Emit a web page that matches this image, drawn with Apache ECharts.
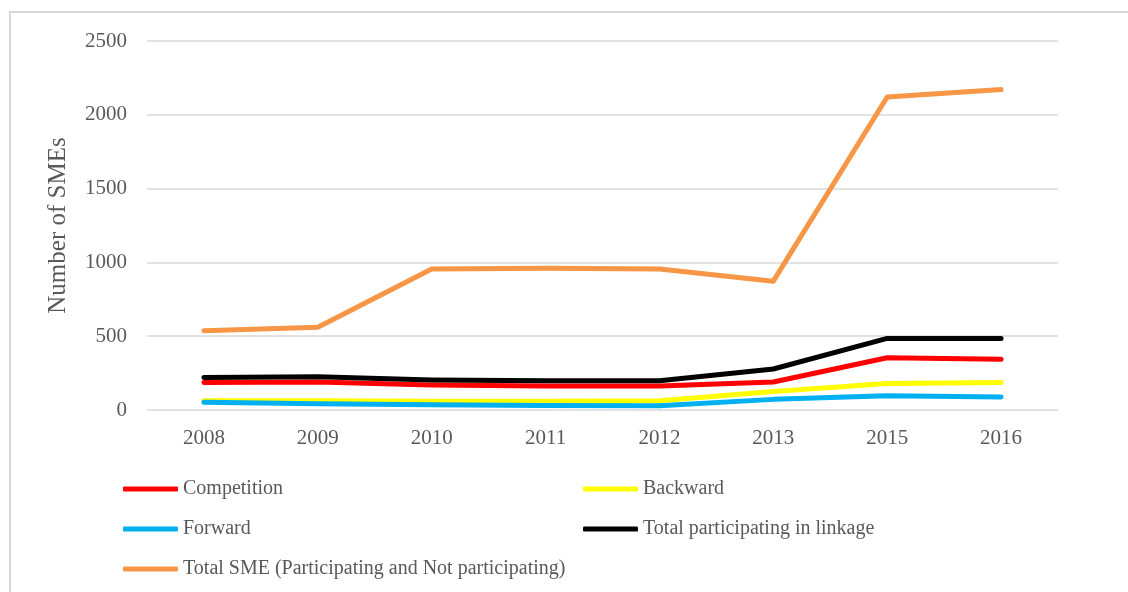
<!DOCTYPE html>
<html>
<head>
<meta charset="utf-8">
<style>html,body{margin:0;padding:0;background:#fff;}#c{width:1128px;height:592px;}</style>
<script src="https://cdn.jsdelivr.net/npm/echarts@6/dist/echarts.min.js"></script>
</head>
<body>
<div id="c"></div>
<script>
const years = ['2008','2009','2010','2011','2012','2013','2015','2016'];
const competition = [187, 190, 169, 163, 162, 190, 354, 343];
const backward = [63, 62, 60, 60, 62, 125, 180, 187];
const forward = [52, 42, 36, 30, 29, 72, 97, 88];
const totalLinkage = [221, 225, 203, 198, 198, 278, 485, 485];
const totalSME = [537, 560, 955, 960, 955, 873, 2121, 2171];
const seriesNames = ['Competition','Backward','Forward','Total participating in linkage','Total SME (Participating and Not participating)'];
const seriesData = [competition, backward, forward, totalLinkage, totalSME];
const colors = ['#FF0000','#FFFF00','#00B0F0','#000000','#F79646'];

const font = 'Liberation Serif';
const chart = echarts.init(document.getElementById('c'));
const legendPos = [[123,479],[583,479],[123,519],[583,519],[123,559]];
chart.setOption({
  animation:false,
  color: colors,
  graphic:[{type:'rect',shape:{x:10,y:12,width:1200,height:700},style:{fill:'none',stroke:'#d9d9d9',lineWidth:2},silent:true}],
  grid:{left:147,right:70,top:41,bottom:182},
  legend: seriesNames.map((n,i)=>({
    data:[n], left:legendPos[i][0], top:legendPos[i][1],
    icon:'roundRect', itemWidth:55, itemHeight:5, padding:0,
    textStyle:{fontFamily:font,fontSize:20,color:'#595959'}
  })),
  xAxis:{type:'category',data:years,boundaryGap:true,
    axisLine:{show:false},axisTick:{show:false},
    axisLabel:{fontFamily:font,fontSize:21,color:'#595959',margin:18}},
  yAxis:{type:'value',min:0,max:2500,interval:500,
    name:'Number of SMEs',nameLocation:'middle',nameGap:76,
    nameTextStyle:{fontFamily:font,fontSize:25,color:'#595959'},
    axisLine:{show:false},axisTick:{show:false},
    axisLabel:{fontFamily:font,fontSize:21,color:'#595959',margin:20,formatter:v=>String(v)},
    splitLine:{lineStyle:{color:'#d9d9d9',width:1.5}}},
  series: seriesNames.map((n,i)=>({
    name:n,type:'line',data:seriesData[i],symbol:'none',
    lineStyle:{width:5,color:colors[i],cap:'round',join:'round'},
    itemStyle:{color:colors[i]}
  }))
});
</script>
</body>
</html>
